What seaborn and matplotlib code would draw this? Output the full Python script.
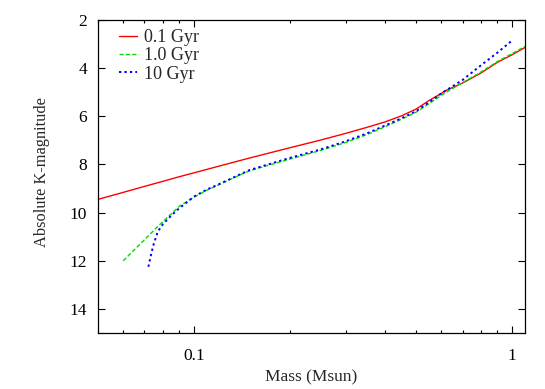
import numpy as np
import pandas as pd
import seaborn as sns
import matplotlib
matplotlib.use("Agg")
import matplotlib.pyplot as plt
from matplotlib.ticker import LogLocator, FixedLocator, FixedFormatter, NullFormatter

# ---- data ----
labels = ["0.1 Gyr", "1.0 Gyr", "10 Gyr"]

mass_01 = [0.05, 0.06, 0.07, 0.08, 0.09, 0.1, 0.12, 0.15, 0.2, 0.25, 0.3, 0.35,
           0.4, 0.45, 0.5, 0.55, 0.6, 0.62, 0.65, 0.7, 0.8, 0.9, 1.0, 1.1]
mag_01 = [9.45, 9.16, 8.91, 8.70, 8.51, 8.35, 8.07, 7.73, 7.31, 6.99, 6.71, 6.46,
          6.23, 5.98, 5.70, 5.34, 5.05, 4.93, 4.81, 4.62, 4.20, 3.76, 3.45, 3.14]

mass_10 = [0.06, 0.065, 0.07, 0.075, 0.08, 0.085, 0.09, 0.1, 0.11, 0.12, 0.14,
           0.15, 0.2, 0.25, 0.3, 0.35, 0.4, 0.45, 0.5, 0.55, 0.6, 0.65, 0.7,
           0.8, 0.9, 1.0, 1.1]
mag_10 = [12.00, 11.55, 11.13, 10.73, 10.37, 10.05, 9.74, 9.36, 9.07, 8.84, 8.43,
          8.26, 7.78, 7.42, 7.09, 6.76, 6.43, 6.12, 5.83, 5.47, 5.13, 4.85, 4.60,
          4.16, 3.73, 3.40, 3.10]

mass_100 = [0.072, 0.073, 0.0745, 0.077, 0.08, 0.085, 0.09, 0.095, 0.1, 0.11,
            0.12, 0.14, 0.15, 0.2, 0.25, 0.3, 0.35, 0.4, 0.45, 0.5, 0.55, 0.6,
            0.65, 0.7, 0.8, 0.9, 1.0]
mag_100 = [12.25, 11.89, 11.39, 10.80, 10.48, 10.12, 9.82, 9.58, 9.34, 9.04,
           8.82, 8.41, 8.23, 7.73, 7.38, 7.04, 6.71, 6.38, 6.08, 5.79, 5.41, 5.05,
           4.76, 4.49, 3.88, 3.36, 2.86]

x_ticks = [0.1, 1]
x_ticklabels = ["0.1", "1"]
y_ticks = [2, 4, 6, 8, 10, 12, 14]

# ---- style ----
sns.set_style("ticks")
plt.rcParams["font.family"] = ["Liberation Serif", "DejaVu Serif"]
FS = 12.5
plt.rcParams["font.size"] = FS

fig = plt.figure(figsize=(5.45, 3.89), dpi=100)
ax = fig.add_axes([98 / 545, 1 - 333 / 389, (525 - 98) / 545, (333 - 20) / 389])

series = [
    (mass_01, mag_01, "#ff0000", 1.0, None),
    (mass_10, mag_10, "#00dd00", 1.0, (3, 1.6)),
    (mass_100, mag_100, "#0000ff", 1.4, (1.2, 1.6)),
]
for (m, mag, c, lw, dash), lab in zip(series, labels):
    df = pd.DataFrame({"mass": m, "mag": mag})
    sns.lineplot(data=df, x="mass", y="mag", ax=ax, color=c, lw=lw,
                 label=lab, sort=False, estimator=None)
    l = ax.get_lines()[-1]
    if dash is not None:
        l.set_dashes(dash)

ax.set_xscale("log")
ax.set_xlim(0.05, 1.1)
ax.set_ylim(15, 2)

ax.xaxis.set_major_locator(FixedLocator(x_ticks))
ax.xaxis.set_major_formatter(FixedFormatter(x_ticklabels))
ax.xaxis.set_minor_locator(LogLocator(base=10, subs=np.arange(2, 10)))
ax.xaxis.set_minor_formatter(NullFormatter())
ax.yaxis.set_major_locator(FixedLocator(y_ticks))

ax.tick_params(which="both", direction="in", top=True, right=True,
               width=0.8, colors="black", labelsize=FS)
ax.tick_params(axis="y", pad=8)
ax.tick_params(axis="x", pad=11)
ax.tick_params(which="major", length=5)
ax.tick_params(which="minor", length=2.5)
for s in ax.spines.values():
    s.set_visible(True)
    s.set_linewidth(0.9)
    s.set_color("black")

ax.set_xlabel("Mass (Msun)", fontsize=FS, labelpad=4)
ax.set_ylabel("Absolute K-magnitude", fontsize=11.8)
ax.yaxis.set_label_coords(-0.112, 0.513)

leg = ax.legend(loc="upper left", frameon=False, fontsize=13, handlelength=1.03,
                handletextpad=0.37, labelspacing=0.07, borderaxespad=0.3,
                bbox_to_anchor=(0.0186, 1.0112))

fig.savefig("out.png", dpi=100)
